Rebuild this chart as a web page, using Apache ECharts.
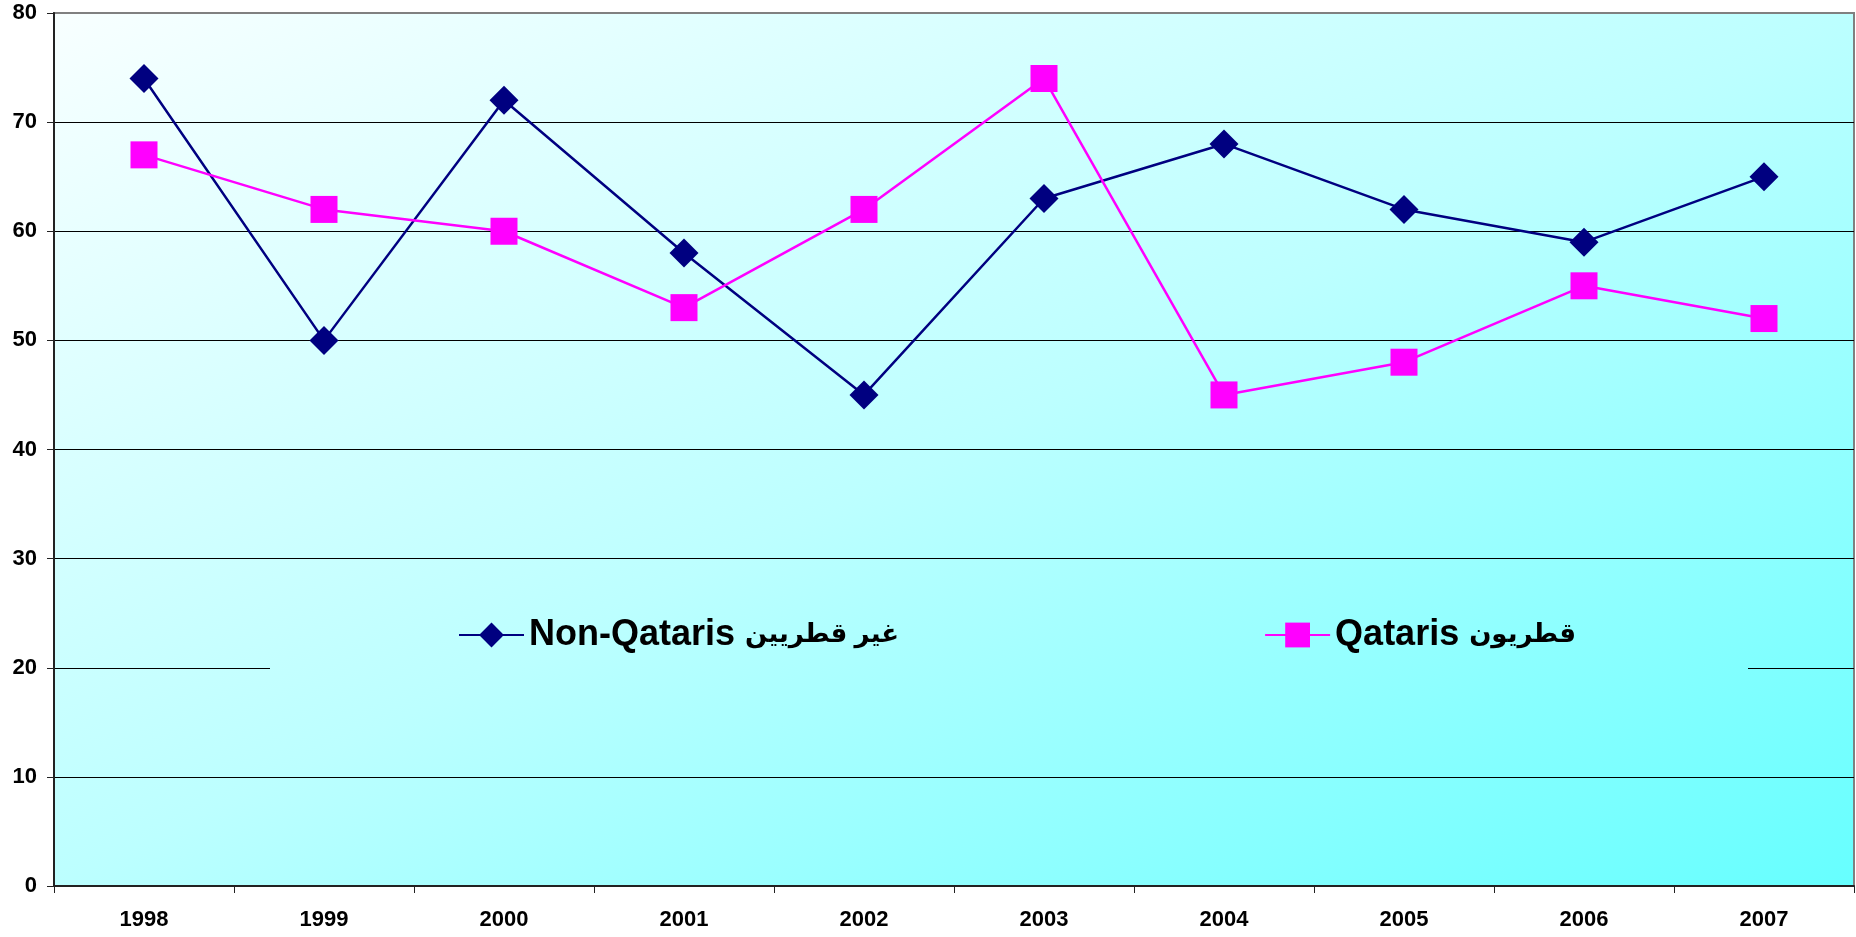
<!DOCTYPE html>
<html>
<head>
<meta charset="utf-8">
<script src="https://cdn.jsdelivr.net/npm/echarts@6/dist/echarts.min.js"></script>
<style>
  html, body { margin: 0; padding: 0; background: #fff; }
  #main { width: 1856px; height: 937px; }
</style>
</head>
<body>
<div id="main"></div>
<script>
// data
var years = ['1998', '1999', '2000', '2001', '2002', '2003', '2004', '2005', '2006', '2007'];
var nonQataris = [74, 50, 72, 58, 45, 63, 68, 62, 59, 65];
var qataris = [67, 62, 60, 53, 62, 74, 45, 48, 55, 52];
var nameNonQ = 'Non-Qataris غير قطريين';
var nameQ = 'Qataris قطريون';

var FONT = "'Liberation Sans', Arial, 'DejaVu Sans', sans-serif";

// plot box (pixels)
var gL = 54, gT = 13, gR = 2, gB = 51;
var W = 1856 - gL - gR, H = 937 - gT - gB;

// excel style diagonal fill: top-right and bottom-left share the mid colour
var k = 2 * W * H / (W * W + H * H);
function plotFill() {
    return new echarts.graphic.LinearGradient(gL, gT, gL + k * H, gT + k * W, [
        { offset: 0, color: '#f8ffff' },
        { offset: 0.5, color: '#bcffff' },
        { offset: 1, color: '#66ffff' }
    ], true);
}

var myChart = echarts.init(document.getElementById('main'));
myChart.setOption({
    animation: false,
    grid: {
        left: gL, right: gR, top: gT, bottom: gB,
        show: true,
        backgroundColor: plotFill(),
        borderColor: '#808080',
        borderWidth: 2
    },
    // legend box hides the 20 gridline in the middle
    graphic: [{
        type: 'rect',
        x: 0, y: 0,
        z: 1,
        silent: true,
        shape: { x: 270, y: 590, width: 1478, height: 110 },
        style: { fill: plotFill() }
    }],
    legend: {
        left: 458,
        top: 617,
        padding: 0,
        itemWidth: 65,
        itemHeight: 31,
        itemGap: 365,
        formatter: function (name) {
            var i = name.indexOf(' ', name.indexOf('Qataris'));
            return '{a|' + name.slice(0, i + 1) + '}{b|' + name.slice(i + 1) + '}';
        },
        textStyle: {
            color: '#000',
            rich: {
                a: { fontSize: 36, fontWeight: 'bold', color: '#000', fontFamily: FONT },
                b: { fontSize: 26, fontWeight: 'bold', color: '#000', fontFamily: FONT }
            }
        },
        data: [nameNonQ, nameQ]
    },
    xAxis: {
        type: 'category',
        data: years,
        boundaryGap: true,
        axisLine: { lineStyle: { color: '#222', width: 2 } },
        axisTick: { show: true, length: 7, lineStyle: { color: '#222' } },
        axisLabel: { margin: 23, fontSize: 22, fontWeight: 'bold', color: '#000', fontFamily: FONT },
        splitLine: { show: false }
    },
    yAxis: {
        type: 'value',
        min: 0,
        max: 80,
        interval: 10,
        axisLine: { show: true, lineStyle: { color: '#222', width: 2 } },
        axisTick: { show: true, length: 7, lineStyle: { color: '#222' } },
        axisLabel: { margin: 17, fontSize: 22, fontWeight: 'bold', color: '#000', fontFamily: FONT },
        splitLine: {
            show: true,
            lineStyle: {
                width: 1.2,
                color: ['#000', '#000', '#000', '#000', '#000', '#000', '#000', '#000', '#808080']
            }
        }
    },
    series: [{
        name: nameNonQ,
        type: 'line',
        data: nonQataris,
        symbol: 'diamond',
        symbolSize: 29,
        showAllSymbol: true,
        color: '#000080',
        lineStyle: { color: '#000080', width: 2.5 },
        itemStyle: { color: '#000080' },
        z: 3
    }, {
        name: nameQ,
        type: 'line',
        data: qataris,
        symbol: 'rect',
        symbolSize: 27,
        showAllSymbol: true,
        color: '#ff00ff',
        lineStyle: { color: '#ff00ff', width: 2.5 },
        itemStyle: { color: '#ff00ff' },
        z: 3
    }]
});
</script>
</body>
</html>
